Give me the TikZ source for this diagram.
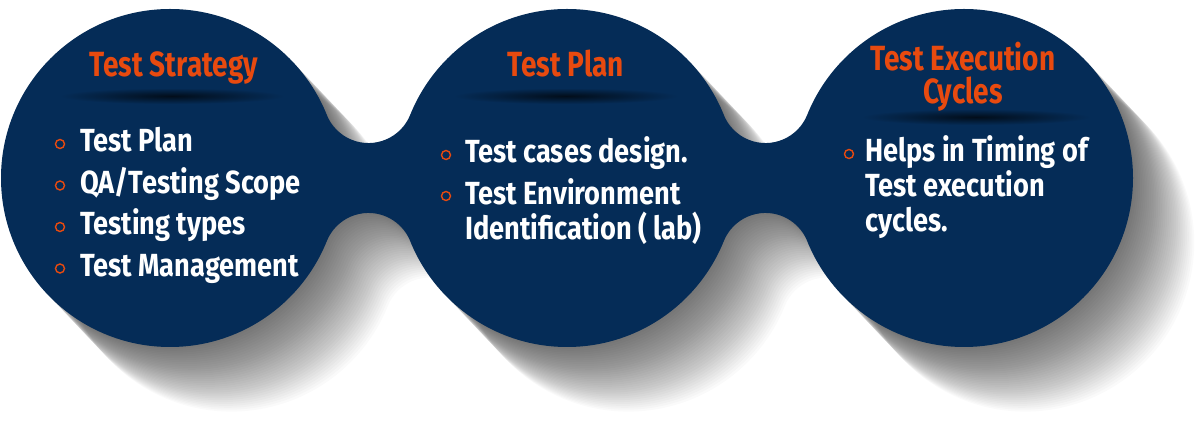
\documentclass[tikz,border=0pt]{standalone}
\usepackage{fontspec}
\setmainfont{Fira Sans}[FakeStretch=0.85]
\newfontfamily\titlefont{Fira Sans}[FakeStretch=0.8]
\usetikzlibrary{positioning}
\definecolor{navy}{HTML}{052C57}
\definecolor{rust}{HTML}{E84A0F}
\tikzset{
  title/.style={text=rust, font=\titlefont\bfseries\fontsize{35}{33}\selectfont, align=center, inner sep=0pt, anchor=base},
  item/.style={text=white, font=\bfseries\fontsize{32}{35}\selectfont, align=left, inner sep=0pt, anchor=base west},
  dot/.style={draw=rust, line width=1.4pt, circle, minimum size=9pt, inner sep=0pt},
}
% neck between two discs, #1 = x of the neck
\newcommand\bridge[1]{({#1-41.7},307.1) -- ({#1-41.7},180.9)
  arc[start angle=158, end angle=22, radius=45] -- ({#1+41.7},307.1)
  arc[start angle=338, end angle=202, radius=45] -- cycle}
% the three discs and both necks as one path
\newcommand\blobpath{(170,244) circle[radius=169] (567,244) circle[radius=169]
  (964,244) circle[radius=169] \bridge{368.5} \bridge{765.5}}
\begin{document}
\begin{tikzpicture}[x=1pt, y=1pt]
  \useasboundingbox (0,0) rectangle (1200,422);
  \fill[white] (0,0) rectangle (1200,422);
  % long soft shadow
  \foreach \k in {1,...,34}
  {
    \fill[black, fill opacity=0.02, shift={(1.8*\k,-1.9*\k)}] \blobpath;
  }
  % discs
  \fill[navy] \blobpath;
  % dark bars under the titles
  \shade[inner color=navy!30!black, outer color=navy] (172,326) ellipse [x radius=112, y radius=8];
  \shade[inner color=navy!30!black, outer color=navy] (566,326) ellipse [x radius=112, y radius=8];
  \shade[inner color=navy!30!black, outer color=navy] (976,305) ellipse [x radius=114, y radius=8];
  % titles (base = last line)
  \node[title] (strat) at (174,345) {Test Strategy};
  \node[title] (plan) at (566,345) {Test Plan};
  \node[title] (exec) at (963,318) {Test Execution\\Cycles};
  % first disc
  \foreach \txt [count=\i] in {Test Plan, QA/Testing Scope, Testing types, Test Management}
  {
    \pgfmathsetmacro\ybase{311.5-41.5*\i}
    \node[item] (strat_\i) at (80,\ybase) {\txt};
    \node[dot] (strat_dot_\i) at (60,\ybase+8) {};
  }
  % second disc
  \node[item] (plan_1) at (465,259) {Test cases design.};
  \node[item] (plan_2) at (465,182) {Test Environment\\Identification ( lab)};
  \node[dot] (plan_dot_1) at (446,267) {};
  \node[dot] (plan_dot_2) at (446,226) {};
  % third disc
  \node[item] (exec_1) at (865,190) {Helps in Timing of\\Test execution\\cycles.};
  \node[dot] (exec_dot_1) at (849,268) {};
\end{tikzpicture}
\end{document}
